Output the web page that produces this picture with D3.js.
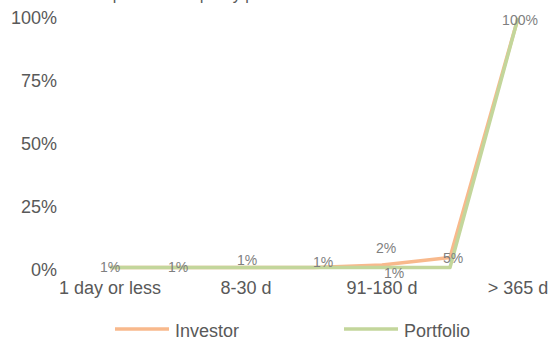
<!DOCTYPE html>
<html>
<head>
<meta charset="utf-8">
<script src="https://cdn.jsdelivr.net/npm/d3@7"></script>
<style>
  html, body { margin: 0; padding: 0; background: #fff; }
  svg { display: block; }
  text { font-family: "Liberation Sans", Arial, sans-serif; }
</style>
</head>
<body>
<svg id="chart" width="552" height="338"></svg>
<script>
// ---- data ----
const title = "Comparison of liquidity profile";
const categories = ["1 day or less", "2-7 d", "8-30 d", "31-90 d", "91-180 d", "181-365 d", "> 365 d"];
const investor = [1, 1, 1, 1, 2, 5, 100];
const portfolio = [1, 1, 1, 1, 1, 1, 100];
const yTicks = [0, 25, 50, 75, 100];
const yTickLabels = ["0%", "25%", "50%", "75%", "100%"];
const seriesNames = ["Investor", "Portfolio"];
// label placement nudges (px) for investor labels
const investorLabelDx = [0, 0, 1, 9, 4, 3, 2];
const investorLabelDy = [0, 0, -7, -5, -17, 1, 2];
const portfolioLabelIdx = [4];
const portfolioLabelDx = [12];
const portfolioLabelDy = [6];

const colors = { Investor: "#F8B98C", Portfolio: "#C3D69B" };

const svg = d3.select("#chart");

const x = d3.scaleBand().domain(categories).range([76, 552]);
const y = d3.scaleLinear().domain([0, 100]).range([270, 18]);
const cx = c => x(c) + x.bandwidth() / 2;

// title (mostly outside the frame; only descenders visible)
svg.append("text").attr("x", 79).attr("y", -0.5)
  .attr("font-size", 16).attr("fill", "#595959").text(title);

// y-axis labels
svg.append("g").selectAll("text").data(yTicks).join("text")
  .attr("x", 57).attr("y", d => y(d)).attr("dy", "0.35em")
  .attr("text-anchor", "end").attr("font-size", 18).attr("fill", "#595959")
  .text((d, i) => yTickLabels[i]);

// x-axis category labels (every other shown)
svg.append("g").selectAll("text").data(categories.filter((d, i) => i % 2 === 0)).join("text")
  .attr("x", d => cx(d)).attr("y", 294)
  .attr("text-anchor", "middle").attr("font-size", 18).attr("fill", "#595959")
  .text(d => d);

const line = d3.line().x((d, i) => cx(categories[i])).y(d => y(d));

svg.append("path").datum(investor).attr("d", line)
  .attr("fill", "none").attr("stroke", colors.Investor).attr("stroke-width", 3.5)
  .attr("stroke-linejoin", "round");
svg.append("path").datum(portfolio).attr("d", line)
  .attr("fill", "none").attr("stroke", colors.Portfolio).attr("stroke-width", 3.5)
  .attr("stroke-linejoin", "round");

// data labels
svg.append("g").selectAll("text").data(investor).join("text")
  .attr("x", (d, i) => cx(categories[i]) + investorLabelDx[i])
  .attr("y", (d, i) => y(d) + investorLabelDy[i]).attr("dy", "0.35em")
  .attr("text-anchor", "middle").attr("font-size", 14).attr("fill", "#7F7F7F")
  .text(d => d + "%");
svg.append("g").selectAll("text").data(portfolioLabelIdx).join("text")
  .attr("x", (idx, k) => cx(categories[idx]) + portfolioLabelDx[k])
  .attr("y", (idx, k) => y(portfolio[idx]) + portfolioLabelDy[k]).attr("dy", "0.35em")
  .attr("text-anchor", "middle").attr("font-size", 14).attr("fill", "#7F7F7F")
  .text(idx => portfolio[idx] + "%");

// legend
const legendX = [115, 344];
const lg = svg.append("g").selectAll("g").data(seriesNames).join("g");
lg.append("line")
  .attr("x1", (d, i) => legendX[i]).attr("x2", (d, i) => legendX[i] + 54)
  .attr("y1", 329).attr("y2", 329)
  .attr("stroke", d => colors[d]).attr("stroke-width", 3.5);
lg.append("text")
  .attr("x", (d, i) => legendX[i] + 60).attr("y", 337)
  .attr("font-size", 18).attr("fill", "#595959")
  .text(d => d);
</script>
</body>
</html>
